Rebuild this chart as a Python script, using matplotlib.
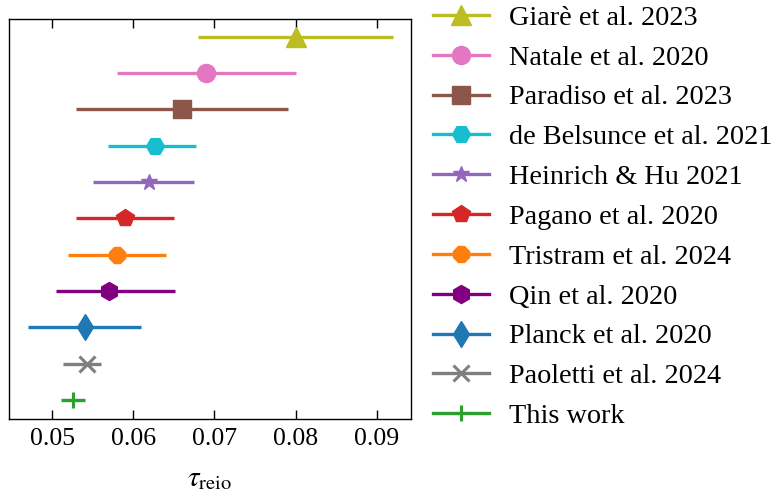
import matplotlib
matplotlib.use("Agg")
import matplotlib.pyplot as plt
from matplotlib.lines import Line2D

# Optical depth to reionization, compilation of measurements (top to bottom)
labels = [
    "Giarè et al. 2023",
    "Natale et al. 2020",
    "Paradiso et al. 2023",
    "de Belsunce et al. 2021",
    "Heinrich & Hu 2021",
    "Pagano et al. 2020",
    "Tristram et al. 2024",
    "Qin et al. 2020",
    "Planck et al. 2020",
    "Paoletti et al. 2024",
    "This work",
]
tau_mean = [0.080, 0.069, 0.066, 0.0627, 0.0619, 0.059, 0.058, 0.057, 0.054, 0.0543, 0.0526]
tau_err_low = [0.012, 0.011, 0.013, 0.0058, 0.0068, 0.006, 0.006, 0.0065, 0.007, 0.0029, 0.0015]
tau_err_high = [0.012, 0.011, 0.013, 0.0050, 0.0056, 0.006, 0.006, 0.0081, 0.007, 0.0017, 0.0015]

colors = ["#bcbd22", "#e377c2", "#8c564b", "#17becf", "#9467bd", "#d62728",
          "#ff7f0e", "purple", "#1f77b4", "#7f7f7f", "#2ca02c"]
markers = ["^", "o", "s", "H", "*", "p", "8", "h", "d", "x", "+"]
msizes = [14, 13, 13, 13, 12, 13, 13, 13, 13, 12, 12]

plt.rcParams["font.family"] = ["Liberation Serif", "DejaVu Serif"]
plt.rcParams["mathtext.fontset"] = "stix"

fig = plt.figure(figsize=(7.74, 4.93), dpi=100)
ax = fig.add_axes([9 / 774, 1 - 418.7 / 493, (411 - 9) / 774, (418.7 - 19) / 493])

n = len(labels)
handles = []
for i in range(n):
    ypos = n - 1 - i
    mew = 2.2 if markers[i] in ("x", "+") else 1.0
    ax.errorbar(tau_mean[i], ypos,
                xerr=[[tau_err_low[i]], [tau_err_high[i]]],
                fmt=markers[i], color=colors[i], ms=msizes[i], mew=mew,
                elinewidth=2.4, capsize=0)
    handles.append(Line2D([], [], color=colors[i], lw=2.4, marker=markers[i],
                          ms=msizes[i], mew=mew, label=labels[i]))

ax.set_xlim(0.0447, 0.0942)
ax.set_ylim(-0.515, n - 1 + 0.487)
ax.set_xticks([0.05, 0.06, 0.07, 0.08, 0.09])
ax.set_xticklabels(["0.05", "0.06", "0.07", "0.08", "0.09"])
ax.set_yticks([])
ax.tick_params(axis="x", direction="in", top=True, bottom=True,
               length=6.5, width=1.0, labelsize=18.5, pad=7)
for sp in ax.spines.values():
    sp.set_linewidth(1.0)
ax.set_xlabel(r"$\tau_{\rm reio}$", fontsize=21, labelpad=11)

fig.legend(handles=handles, loc="upper left",
           bbox_to_anchor=(433 / 774, 1 - 5 / 493),
           frameon=False, fontsize=20.3, handlelength=2.0,
           handletextpad=0.7, labelspacing=0.50, borderpad=0.0,
           borderaxespad=0.0)

fig.savefig("out.png", dpi=100)
